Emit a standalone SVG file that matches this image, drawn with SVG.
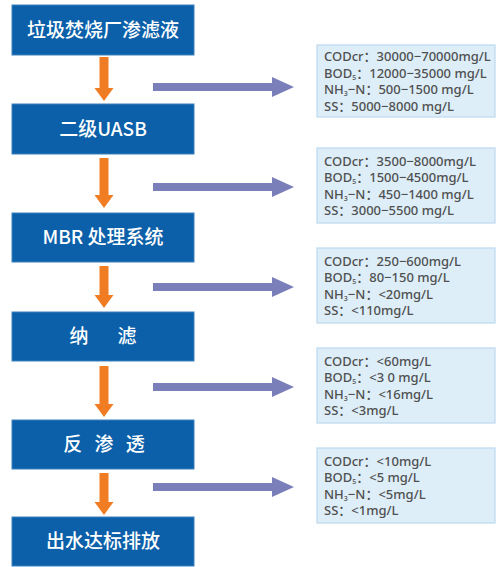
<svg xmlns="http://www.w3.org/2000/svg" width="497" height="567" viewBox="0 0 497 567">
<defs>
<style>
.box{fill:#0b60a9;stroke:#3d82bf;stroke-width:1}
.bt{fill:#ffffff;font-family:"Noto Sans CJK SC","Noto Sans",sans-serif;font-size:19px;font-weight:500;text-anchor:middle}
.info{fill:#ddeef9;stroke:#bcd9ee;stroke-width:1.2}
.it{fill:#505050;font-family:"Noto Sans","Noto Sans CJK SC",sans-serif;font-size:13px;font-weight:500}
.sub{font-size:7px}
.oa{fill:#f07d23}
.pa{fill:#7b7fb9}
</style>
</defs>
<rect width="497" height="567" fill="#ffffff"/>

<g id="connectors">
  <g id="orange-arrows">
    <path class="oa" d="M99.5,57 H108.5 V88 H113.5 L104,101 L94.5,88 H99.5 Z"/>
    <path class="oa" d="M99.5,158 H108.5 V195 H113.5 L104,208 L94.5,195 H99.5 Z"/>
    <path class="oa" d="M99.5,266 H108.5 V295 H113.5 L104,308 L94.5,295 H99.5 Z"/>
    <path class="oa" d="M99.5,366 H108.5 V404 H113.5 L104,417 L94.5,404 H99.5 Z"/>
    <path class="oa" d="M99.5,473 H108.5 V502 H113.5 L104,515 L94.5,502 H99.5 Z"/>
  </g>
  <g id="purple-arrows">
    <path class="pa" d="M153,83 H272 V77 L294,87 L272,97 V91 H153 Z"/>
    <path class="pa" d="M153,183 H272 V177 L294,187 L272,197 V191 H153 Z"/>
    <path class="pa" d="M153,283 H272 V277 L294,287 L272,297 V291 H153 Z"/>
    <path class="pa" d="M153,383 H272 V377 L294,387 L272,397 V391 H153 Z"/>
    <path class="pa" d="M153,483 H272 V477 L294,487 L272,497 V491 H153 Z"/>
  </g>
</g>

<g id="node-leachate">
  <rect class="box" x="12" y="5" width="182" height="50"/>
  <text class="bt" x="103" y="37">垃圾焚烧厂渗滤液</text>
</g>
<g id="node-uasb">
  <rect class="box" x="12" y="104" width="182" height="50"/>
  <text class="bt" x="103" y="136">二级UASB</text>
</g>
<g id="node-mbr">
  <rect class="box" x="12" y="213" width="182" height="49"/>
  <text class="bt" x="103" y="244">MBR 处理系统</text>
</g>
<g id="node-nf">
  <rect class="box" x="12" y="312" width="182" height="49"/>
  <text class="bt" x="105.5" y="343" xml:space="preserve" style="letter-spacing:5px">纳　滤</text>
</g>
<g id="node-ro">
  <rect class="box" x="12" y="420" width="182" height="49"/>
  <text class="bt" x="106" y="451" xml:space="preserve" style="letter-spacing:4px">反 渗 透</text>
</g>
<g id="node-out">
  <rect class="box" x="12" y="517" width="182" height="49"/>
  <text class="bt" x="103" y="548">出水达标排放</text>
</g>

<g id="info-1">
  <rect class="info" x="317" y="45" width="178" height="72"/>
  <text class="it" x="324" y="61">CODcr：30000−70000mg/L</text>
  <text class="it" x="324" y="77.5">BOD<tspan class="sub" dy="2">5</tspan><tspan dy="-2">：12000−35000 mg/L</tspan></text>
  <text class="it" x="324" y="94">NH<tspan class="sub" dy="2">3</tspan><tspan dy="-2">−N：500−1500 mg/L</tspan></text>
  <text class="it" x="324" y="110.5">SS：5000−8000 mg/L</text>
</g>
<g id="info-2">
  <rect class="info" x="317" y="148" width="178" height="75"/>
  <text class="it" x="324" y="165.5">CODcr：3500−8000mg/L</text>
  <text class="it" x="324" y="182">BOD<tspan class="sub" dy="2">5</tspan><tspan dy="-2">：1500−4500mg/L</tspan></text>
  <text class="it" x="324" y="198.5">NH<tspan class="sub" dy="2">3</tspan><tspan dy="-2">−N：450−1400 mg/L</tspan></text>
  <text class="it" x="324" y="215">SS：3000−5500 mg/L</text>
</g>
<g id="info-3">
  <rect class="info" x="317" y="248" width="178" height="75"/>
  <text class="it" x="324" y="265.5">CODcr：250−600mg/L</text>
  <text class="it" x="324" y="282">BOD<tspan class="sub" dy="2">5</tspan><tspan dy="-2">：80−150 mg/L</tspan></text>
  <text class="it" x="324" y="298.5">NH<tspan class="sub" dy="2">3</tspan><tspan dy="-2">−N：&lt;20mg/L</tspan></text>
  <text class="it" x="324" y="315">SS：&lt;110mg/L</text>
</g>
<g id="info-4">
  <rect class="info" x="317" y="348" width="178" height="75"/>
  <text class="it" x="324" y="365.5">CODcr：&lt;60mg/L</text>
  <text class="it" x="324" y="382">BOD<tspan class="sub" dy="2">5</tspan><tspan dy="-2">：&lt;3 0 mg/L</tspan></text>
  <text class="it" x="324" y="398.5">NH<tspan class="sub" dy="2">3</tspan><tspan dy="-2">−N：&lt;16mg/L</tspan></text>
  <text class="it" x="324" y="415">SS：&lt;3mg/L</text>
</g>
<g id="info-5">
  <rect class="info" x="317" y="448" width="178" height="75"/>
  <text class="it" x="324" y="465.5">CODcr：&lt;10mg/L</text>
  <text class="it" x="324" y="482">BOD<tspan class="sub" dy="2">5</tspan><tspan dy="-2">：&lt;5 mg/L</tspan></text>
  <text class="it" x="324" y="498.5">NH<tspan class="sub" dy="2">3</tspan><tspan dy="-2">−N：&lt;5mg/L</tspan></text>
  <text class="it" x="324" y="515">SS：&lt;1mg/L</text>
</g>
</svg>
